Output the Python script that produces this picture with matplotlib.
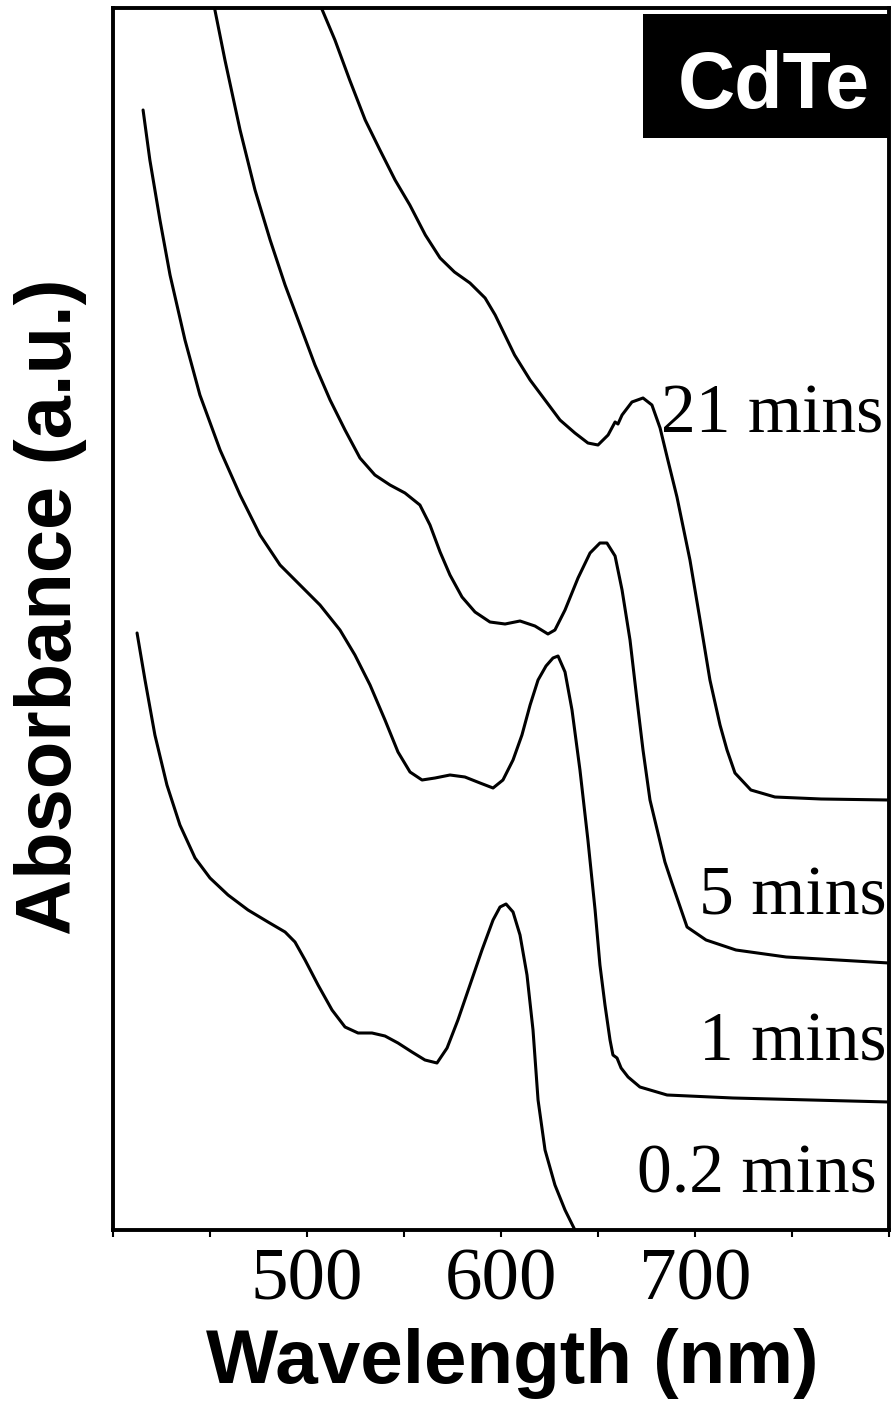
import matplotlib
matplotlib.use("Agg")
import matplotlib.pyplot as plt
from matplotlib.patches import Rectangle

# ---------------- data ----------------
wl_21 = [505.7, 514.4, 522.0, 530.0, 537.6, 545.4, 553.0, 561.0, 568.6, 576.0, 584.0,
         591.8, 597.0, 602.0, 607.0, 615.0, 622.7, 630.4, 638.1, 644.8, 650.0, 655.2,
         658.8, 660.3, 662.4, 667.5, 673.2, 677.8, 682.0, 686.0, 690.7, 697.4, 702.6,
         707.7, 712.9, 716.5, 720.6, 728.8, 741.2, 765.0, 800.0]
abs_21 = [1.230, 1.190, 1.150, 1.110, 1.080, 1.050, 1.025, 0.995, 0.972, 0.958, 0.947,
          0.932, 0.915, 0.895, 0.875, 0.850, 0.830, 0.810, 0.797, 0.787, 0.785, 0.795,
          0.808, 0.806, 0.815, 0.828, 0.832, 0.825, 0.802, 0.770, 0.733, 0.670, 0.610,
          0.550, 0.505, 0.480, 0.457, 0.440, 0.433, 0.431, 0.430]

wl_5 = [451.5, 457.7, 465.5, 473.2, 481.0, 488.7, 496.4, 504.1, 511.9, 519.6, 527.3,
        535.0, 542.8, 550.5, 558.2, 563.4, 568.6, 573.7, 579.9, 586.6, 594.3, 602.1,
        609.8, 617.5, 624.2, 627.8, 633.0, 639.7, 645.9, 651.0, 654.6, 658.8, 662.4,
        666.5, 670.1, 673.2, 676.8, 680.9, 684.5, 688.1, 695.9, 705.7, 721.1, 747.0, 800.0]
abs_5 = [1.230, 1.170, 1.100, 1.040, 0.990, 0.945, 0.905, 0.865, 0.830, 0.800, 0.772,
         0.755, 0.745, 0.737, 0.725, 0.705, 0.678, 0.655, 0.633, 0.618, 0.608, 0.606,
         0.609, 0.604, 0.596, 0.600, 0.620, 0.652, 0.677, 0.687, 0.687, 0.674, 0.640,
         0.590, 0.530, 0.480, 0.430, 0.397, 0.368, 0.347, 0.303, 0.290, 0.280, 0.273, 0.267]

wl_1 = [415.5, 419.0, 424.2, 429.4, 437.1, 444.8, 455.2, 465.5, 475.8, 486.1, 496.4,
        506.7, 517.0, 524.7, 532.5, 540.2, 546.9, 553.1, 559.3, 566.0, 573.7, 581.4,
        589.2, 595.9, 601.0, 606.2, 610.8, 615.0, 619.1, 623.2, 626.8, 629.4, 633.0,
        636.6, 640.7, 644.8, 648.5, 651.0, 653.6, 656.2, 657.7, 659.8, 661.9, 665.5,
        671.6, 685.6, 719.6, 800.0]
abs_1 = [1.120, 1.070, 1.010, 0.955, 0.890, 0.835, 0.780, 0.735, 0.695, 0.665, 0.645,
         0.625, 0.600, 0.575, 0.545, 0.510, 0.478, 0.458, 0.450, 0.452, 0.455, 0.453,
         0.447, 0.442, 0.450, 0.470, 0.495, 0.525, 0.550, 0.564, 0.572, 0.574, 0.558,
         0.520, 0.460, 0.390, 0.320, 0.265, 0.225, 0.190, 0.175, 0.172, 0.162, 0.153,
         0.143, 0.135, 0.132, 0.128]

wl_02 = [412.4, 416.5, 421.6, 427.8, 434.5, 442.3, 450.0, 459.3, 469.6, 479.9, 488.7,
         493.8, 499.0, 505.7, 512.9, 519.6, 526.3, 533.5, 540.2, 546.9, 554.1, 560.8,
         567.0, 572.2, 577.8, 584.0, 590.2, 595.9, 599.5, 602.6, 606.2, 609.8, 613.4,
         616.5, 619.1, 622.7, 627.8, 633.0, 638.1]
abs_02 = [0.597, 0.550, 0.495, 0.445, 0.405, 0.372, 0.352, 0.335, 0.320, 0.308, 0.298,
          0.288, 0.270, 0.245, 0.220, 0.203, 0.197, 0.197, 0.194, 0.187, 0.178, 0.170,
          0.167, 0.182, 0.210, 0.245, 0.280, 0.310, 0.323, 0.326, 0.318, 0.295, 0.255,
          0.200, 0.130, 0.080, 0.045, 0.020, 0.000]

series = [(wl_21, abs_21), (wl_5, abs_5), (wl_1, abs_1), (wl_02, abs_02)]
curve_labels = ["21 mins", "5 mins", "1 mins", "0.2 mins"]
label_pos = [(0.993, 0.653), (0.997, 0.2578), (0.997, 0.139), (0.984, 0.031)]

major_ticks = [500, 600, 700]
major_labels = ["500", "600", "700"]
minor_ticks = [400, 450, 550, 650, 750, 800]

# ---------------- figure ----------------
fig = plt.figure(figsize=(8.96, 14.08), dpi=100)
ax = fig.add_axes([113 / 896, 1 - 1230 / 1408, 776 / 896, 1222 / 1408])

for (x, y) in series:
    ax.plot(x, y, color="black", lw=2.2, solid_joinstyle="round", solid_capstyle="round")

ax.set_xlim(400, 800)
ax.set_ylim(0, 1.222)

for s in ax.spines.values():
    s.set_linewidth(2.8)
    s.set_color("black")

ax.set_yticks([])
ax.set_xticks(major_ticks)
ax.set_xticklabels(major_labels, fontfamily="Liberation Serif", fontsize=54)
ax.set_xticks(minor_ticks, minor=True)
ax.tick_params(axis="x", which="both", direction="out", length=5, width=1.5, pad=8)

for txt, (px, py) in zip(curve_labels, label_pos):
    ax.text(px, py, txt, transform=ax.transAxes, ha="right", va="baseline",
            fontfamily="Liberation Serif", fontsize=50, color="black")

# CdTe box
ax.add_patch(Rectangle((0.683, 0.894), 0.317, 0.101, transform=ax.transAxes,
                       facecolor="black", edgecolor="none", clip_on=False, zorder=5))
ax.text(0.851, 0.918, "CdTe", transform=ax.transAxes, ha="center", va="baseline",
        fontfamily="Liberation Sans", fontweight="bold", fontsize=57, color="white", zorder=6)

ax.set_xlabel("Wavelength (nm)", fontfamily="Liberation Sans", fontweight="bold", fontsize=55)
ax.xaxis.set_label_coords(0.514, -0.08)
ax.xaxis.label.set_va("top")

ax.set_ylabel("Absorbance (a.u.)", fontfamily="Liberation Sans", fontweight="bold", fontsize=56)
ax.yaxis.label.set_va("center")
ax.yaxis.set_label_coords(-0.081, 0.51)

fig.savefig("out.png", dpi=100)
